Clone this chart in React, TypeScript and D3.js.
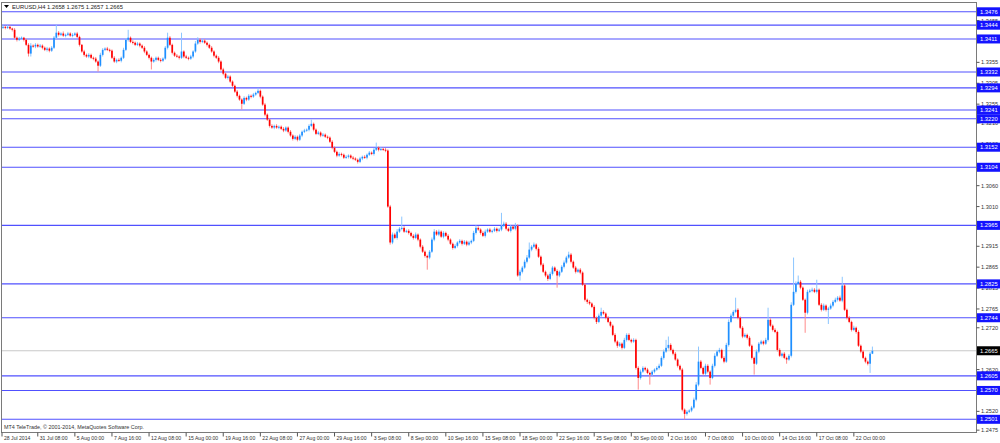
import React from "react";
import * as d3 from "d3";

// EURUSD H4 closes, in pips (price * 10000); open = previous close
const firstOpen = 13438;
const closes = [
  13440,13438,13440,13436,13433,13414,13409,13412,13414,13409,13397,13376,13395,13393,13397,13393,13395,13390,13385,13388,
  13383,13390,13414,13426,13421,13424,13419,13421,13424,13419,13421,13424,13416,13397,13381,13373,13369,13373,13366,13364,
  13357,13347,13373,13385,13388,13385,13383,13366,13357,13361,13359,13366,13385,13409,13414,13404,13402,13397,13400,13395,
  13390,13381,13373,13366,13357,13361,13366,13361,13359,13364,13390,13414,13397,13378,13371,13369,13366,13381,13369,13366,
  13364,13369,13381,13400,13409,13404,13407,13402,13397,13390,13381,13371,13366,13357,13338,13328,13318,13321,13309,13299,
  13285,13275,13266,13256,13270,13266,13275,13273,13278,13282,13287,13273,13254,13230,13218,13203,13199,13203,13199,13201,
  13196,13192,13199,13189,13180,13172,13177,13170,13180,13189,13192,13194,13203,13208,13194,13184,13187,13180,13182,13177,
  13175,13165,13151,13141,13132,13136,13134,13127,13129,13132,13127,13125,13122,13117,13125,13129,13127,13134,13139,13136,
  13146,13151,13146,13148,13146,13144,13010,12924,12943,12935,12950,12957,12959,12950,12952,12947,12940,12935,12943,12931,
  12914,12902,12892,12888,12902,12931,12950,12943,12950,12938,12947,12940,12931,12921,12911,12916,12924,12928,12921,12926,
  12919,12924,12928,12947,12959,12955,12947,12940,12950,12955,12950,12952,12957,12952,12955,12964,12969,12957,12952,12962,
  12957,12964,12845,12854,12864,12878,12888,12907,12914,12919,12909,12890,12871,12854,12845,12837,12849,12864,12856,12845,
  12854,12866,12876,12888,12895,12878,12864,12854,12859,12852,12823,12787,12782,12778,12770,12744,12734,12749,12758,12754,
  12744,12734,12725,12703,12687,12677,12682,12672,12691,12703,12691,12687,12691,12624,12600,12615,12624,12620,12612,12608,
  12615,12620,12624,12629,12648,12663,12672,12679,12667,12658,12644,12629,12620,12524,12514,12519,12522,12529,12548,12584,
  12639,12624,12610,12629,12615,12600,12629,12653,12663,12667,12648,12639,12679,12734,12749,12758,12763,12744,12720,12699,
  12703,12696,12677,12648,12634,12663,12682,12687,12682,12691,12739,12725,12715,12710,12667,12653,12658,12648,12644,12653,
  12775,12806,12825,12830,12816,12787,12756,12806,12809,12811,12806,12811,12775,12763,12773,12763,12766,12773,12782,12787,
  12792,12785,12821,12763,12744,12734,12715,12720,12710,12677,12663,12648,12639,12634,12658,12665,
];
// upper / lower shadow length, in pips
const wickUp = [
  5,3,4,3,2,4,3,4,3,2,3,4,6,3,4,3,4,3,3,4,
  3,4,4,19,4,3,5,3,4,3,4,3,4,3,2,4,3,4,3,3,
  4,3,5,4,3,4,3,3,4,3,4,3,5,4,19,3,4,3,4,3,
  3,4,3,3,3,4,3,3,4,3,4,12,4,3,3,4,3,45,3,4,
  3,4,3,6,6,4,3,4,3,3,4,3,3,4,3,4,3,4,3,3,
  3,4,3,3,4,3,4,3,4,3,7,3,3,4,3,3,4,3,4,3,
  3,4,3,3,4,3,4,3,4,3,4,3,4,10,3,3,4,3,4,3,
  3,3,4,3,3,4,3,3,4,3,3,4,3,3,4,3,4,3,4,3,
  4,12,3,4,3,4,3,4,5,4,6,4,27,4,3,4,3,4,5,3,
  3,4,3,3,4,5,6,4,5,3,4,3,4,3,3,4,3,4,3,4,
  3,4,3,5,6,4,3,4,5,3,4,3,4,3,4,31,5,4,3,4,
  3,7,4,5,4,5,6,17,4,5,3,4,3,4,3,4,5,4,3,4,
  3,4,5,4,7,4,3,4,3,4,3,4,3,4,3,4,3,5,10,4,
  3,4,3,3,4,3,4,3,5,4,4,3,4,3,4,5,4,3,4,3,
  4,3,4,5,4,5,19,20,4,3,4,3,3,4,3,4,3,4,5,6,
  36,4,3,5,4,3,5,6,4,5,3,4,5,6,5,4,29,4,3,4,
  4,3,4,3,3,5,4,4,3,5,29,4,3,4,3,4,3,4,3,4,
  6,82,6,15,4,3,3,5,4,5,4,24,3,4,5,3,4,5,4,5,
  4,5,21,4,3,4,3,5,3,4,3,4,3,3,4,10,
];
const wickDown = [
  3,4,3,3,4,3,4,3,3,4,3,7,7,3,4,3,3,4,3,4,
  4,3,3,3,4,3,3,4,3,3,4,3,3,4,3,4,3,4,3,4,
  3,14,3,4,3,3,4,3,3,4,3,4,3,3,4,3,4,3,3,4,
  3,4,3,4,19,3,4,3,4,3,3,4,3,4,3,3,4,3,4,3,
  4,3,4,3,3,4,3,3,4,3,3,4,3,4,3,4,3,4,3,4,
  3,4,3,14,3,4,3,4,3,3,3,4,3,4,3,4,3,4,3,4,
  3,4,3,4,3,4,3,4,3,4,3,3,4,3,4,3,3,4,3,3,
  4,3,4,3,4,3,4,3,3,4,3,4,3,4,3,4,3,4,3,3,
  4,3,4,3,3,4,3,5,4,3,4,3,4,3,3,4,3,4,3,4,
  4,3,4,29,4,3,4,3,4,3,4,3,4,3,4,3,4,3,4,3,
  4,3,4,3,4,3,4,3,4,3,3,4,3,4,3,4,3,4,3,4,
  3,4,3,12,4,3,4,3,4,3,4,3,4,3,4,5,3,4,3,29,
  4,3,4,3,3,4,3,4,3,4,3,4,5,4,3,4,5,3,4,3,
  4,3,4,3,4,5,3,4,3,4,3,4,3,4,28,4,3,4,3,24,
  3,4,3,4,3,4,3,4,3,4,3,4,3,4,13,4,3,4,3,4,
  4,3,4,3,4,16,3,4,3,4,3,4,3,4,3,4,3,4,3,4,
  3,4,3,4,26,3,4,3,4,3,4,3,4,3,4,3,4,3,10,3,
  4,3,4,3,4,3,48,4,3,4,3,4,3,4,3,4,34,3,4,3,
  4,3,4,3,4,3,4,3,4,3,4,3,4,4,22,1,
];

const levels = [1.3476, 1.3444, 1.3411, 1.3332, 1.3294, 1.3241, 1.3220, 1.3152, 1.3104, 1.2965, 1.2825, 1.2744, 1.2605, 1.2570, 1.2501];
const currentPrice = 1.2665;
// visible price-scale labels (those fully covered by level tags are left out)
const priceTicks = ["1.3455","1.3355","1.3305","1.3255","1.3210","1.3160","1.3060","1.3010","1.2915","1.2865","1.2815","1.2765","1.2720","1.2620","1.2520","1.2475"];
const timeLabels = ["28 Jul 2014","31 Jul 08:00","5 Aug 00:00","7 Aug 16:00","12 Aug 08:00","15 Aug 00:00","19 Aug 16:00","22 Aug 08:00","27 Aug 00:00","29 Aug 16:00","3 Sep 08:00","8 Sep 00:00","10 Sep 16:00","15 Sep 08:00","18 Sep 00:00","22 Sep 16:00","25 Sep 08:00","30 Sep 00:00","2 Oct 16:00","7 Oct 08:00","10 Oct 00:00","14 Oct 16:00","17 Oct 08:00","22 Oct 00:00"];
const timeLabelBars = [0,15,31,47,63,79,95,111,127,143,159,175,191,207,223,239,255,271,287,303,319,335,351,367];
const title = "EURUSD,H4  1.2658 1.2675 1.2657 1.2665";
const copyright = "MT4 TeleTrade, © 2001-2014, MetaQuotes Software Corp.";

const W = 1000, H = 443;
const FONT = "'Liberation Sans', Arial, sans-serif";

export default function App() {
  const x = d3.scaleLinear().domain([0, 375]).range([3, 872.4]);
  const y = d3.scaleLinear().domain([1.2501, 1.3476]).range([419.3, 11.8]);
  const left = 1.5, right = 976.5, top = 2.5, bottom = 432.5;

  const bars = closes.map((c, i) => {
    const o = (i === 0 ? firstOpen : closes[i - 1]) / 1e4;
    const cl = c / 1e4;
    const hi = Math.max(o, cl) + wickUp[i] / 1e4;
    const lo = Math.min(o, cl) - wickDown[i] / 1e4;
    return { i, o, c: cl, hi, lo, up: cl >= o };
  });

  return (
    <svg width={W} height={H} style={{ position: "absolute", left: 0, top: 0, background: "#fff" }} fontFamily={FONT}>
      <rect x={0} y={0} width={W} height={H} fill="#fff" />
      <line x1={left} x2={right} y1={y(currentPrice)} y2={y(currentPrice)} stroke="#c8c8c8" strokeWidth={1} />
      {levels.map((l) => (
        <line key={"l" + l} x1={left} x2={right} y1={y(l)} y2={y(l)} stroke="#5050ff" strokeWidth={1.1} />
      ))}
      {bars.map((b) => {
        const cx = x(b.i);
        const yTop = y(Math.max(b.o, b.c));
        const yBot = y(Math.min(b.o, b.c));
        const body = b.up ? "#1e8fff" : "#ff0000";
        const wick = b.up ? "#8cc6ff" : "#ff8a8a";
        return (
          <g key={b.i}>
            <line x1={cx} x2={cx} y1={y(b.hi)} y2={y(b.lo)} stroke={wick} strokeWidth={1} />
            <rect x={cx - 0.85} width={1.7} y={yTop} height={Math.max(1, yBot - yTop)} fill={body} />
          </g>
        );
      })}
      <rect x={left} y={top} width={right - left} height={bottom - top} fill="none" stroke="#7a7a7a" strokeWidth={1} />
      {priceTicks.map((t) => {
        const v = +t;
        return (
          <g key={"t" + t}>
            <line x1={right} x2={right + 3} y1={y(v)} y2={y(v)} stroke="#555" strokeWidth={1} />
            <text x={981} y={y(v)} dy="0.35em" fontSize={5.6} fill="#333">{t}</text>
          </g>
        );
      })}
      {levels.map((l) => (
        <g key={"lb" + l}>
          <rect x={977} y={y(l) - 4.5} width={23} height={9} fill="#1414ff" />
          <text x={980} y={y(l)} dy="0.35em" fontSize={5.8} fill="#fff">{l.toFixed(4)}</text>
        </g>
      ))}
      <g>
        <rect x={977} y={y(currentPrice) - 4.5} width={23} height={9} fill="#000" />
        <text x={980} y={y(currentPrice)} dy="0.35em" fontSize={5.8} fill="#fff">{currentPrice.toFixed(4)}</text>
      </g>
      {timeLabels.map((t, k) => {
        const px = k === 0 ? 2 : x(timeLabelBars[k]);
        return (
          <g key={"tl" + k}>
            <line x1={px} x2={px} y1={bottom} y2={bottom + 4} stroke="#555" strokeWidth={1} />
            <text x={px + 2} y={439.5} fontSize={5.1} fill="#333">{t}</text>
          </g>
        );
      })}
      <path d="M4,5 L9,5 L6.5,8 Z" fill="#000" />
      <text x={12} y={9} fontSize={5.8} fill="#222">{title}</text>
      <text x={4} y={428.5} fontSize={5.4} fill="#333">{copyright}</text>
    </svg>
  );
}
